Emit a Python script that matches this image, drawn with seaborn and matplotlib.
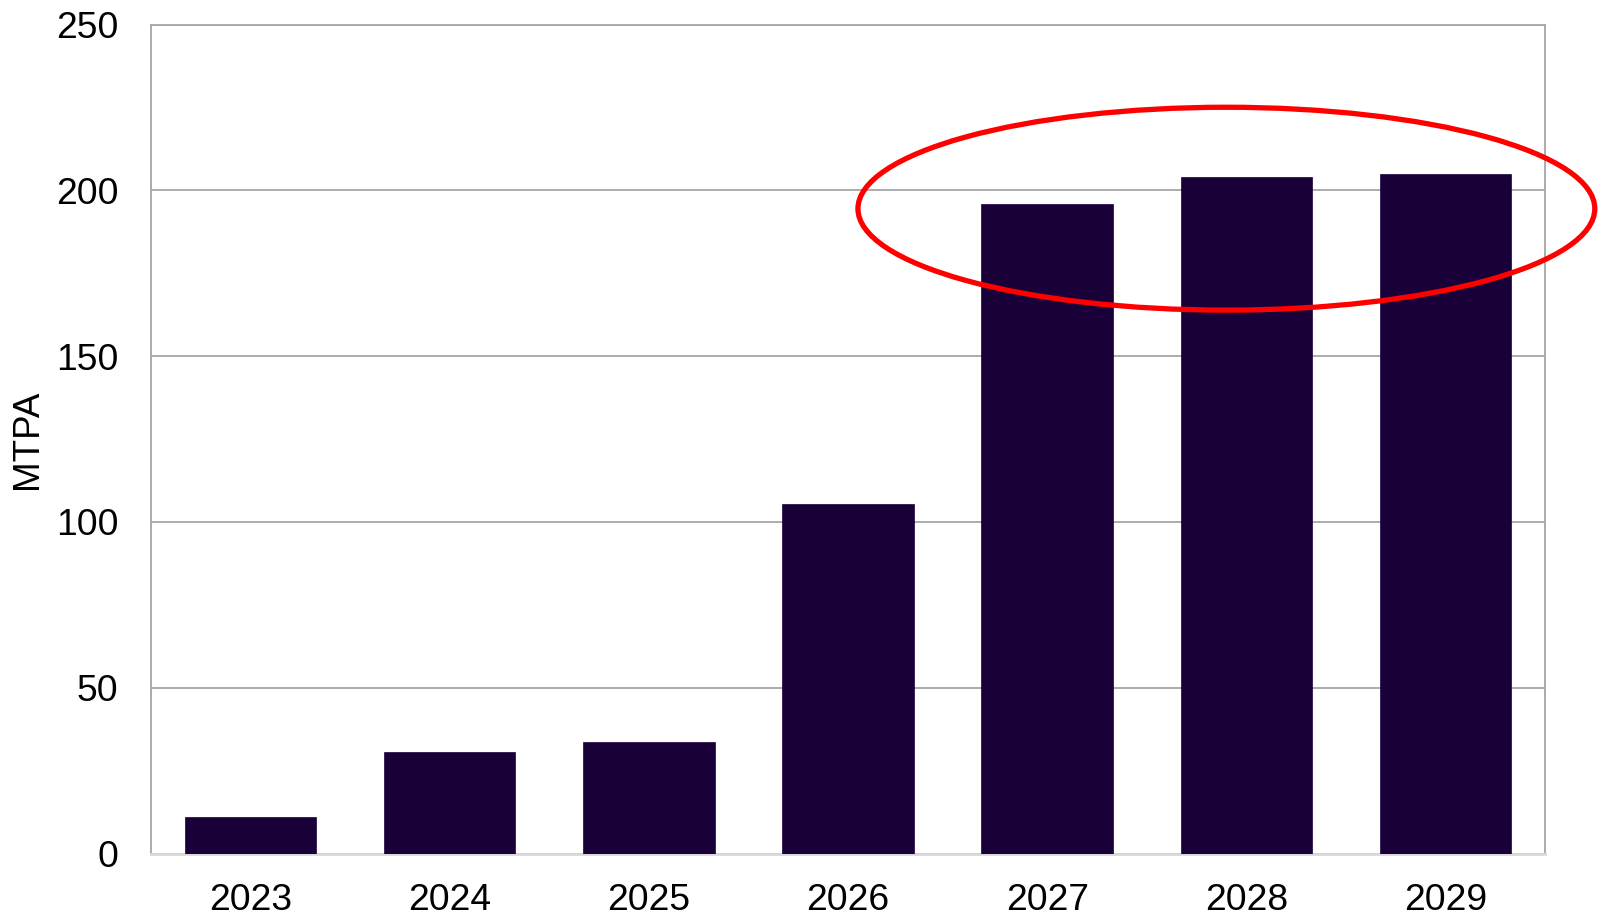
import matplotlib
matplotlib.use("Agg")
import matplotlib.pyplot as plt
from matplotlib.patches import Ellipse
import seaborn as sns
import pandas as pd

# Capacity by year (million tonnes per annum)
years = ["2023", "2024", "2025", "2026", "2027", "2028", "2029"]
mtpa = [11, 30.5, 33.5, 105.5, 196, 204, 205]
y_ticks = [0, 50, 100, 150, 200, 250]

sns.set_theme(style="white")
plt.rcParams["font.family"] = ["Liberation Sans", "DejaVu Sans"]

df = pd.DataFrame({"year": years, "mtpa": mtpa})

fig = plt.figure(figsize=(15.99, 9.16), dpi=100)
ax = fig.add_axes([151 / 1599, 1 - 853.5 / 916, 1394 / 1599, (853.5 - 24.7) / 916])

sns.barplot(data=df, x="year", y="mtpa", color="#1a0038", saturation=1,
            width=0.66, ax=ax, zorder=3, edgecolor="#1a0038", linewidth=0.5)

ax.set_ylim(0, 250)
ax.set_xlim(-0.5, 6.5)
ax.set_yticks(y_ticks)
ax.set_yticklabels([str(t) for t in y_ticks])
ax.yaxis.grid(True, color="#a6a6a6", linewidth=1.3, zorder=0)
ax.set_axisbelow(True)

for side in ("left", "top", "right"):
    ax.spines[side].set_color("#a6a6a6")
    ax.spines[side].set_linewidth(1.3)
ax.spines["bottom"].set_color("#d9d9d9")
ax.spines["bottom"].set_linewidth(2)

ax.tick_params(axis="y", length=0, pad=23.5, labelsize=26.8, labelcolor="black")
ax.tick_params(axis="x", length=0, pad=21, labelsize=26.8, labelcolor="black")

ax.set_xlabel("")
ax.set_ylabel("MTPA", fontsize=26.5, color="black")
ax.yaxis.label.set_va("center")
ax.yaxis.set_label_coords((27.5 - 151) / 1394, 0.5)

# Highlight around the final three years
ring = Ellipse((4.9, 194.5), width=3.70, height=61.2, fill=False,
               edgecolor="#ff0000", linewidth=3.8, clip_on=False, zorder=5)
ax.add_patch(ring)

fig.savefig("out.png", dpi=100)
